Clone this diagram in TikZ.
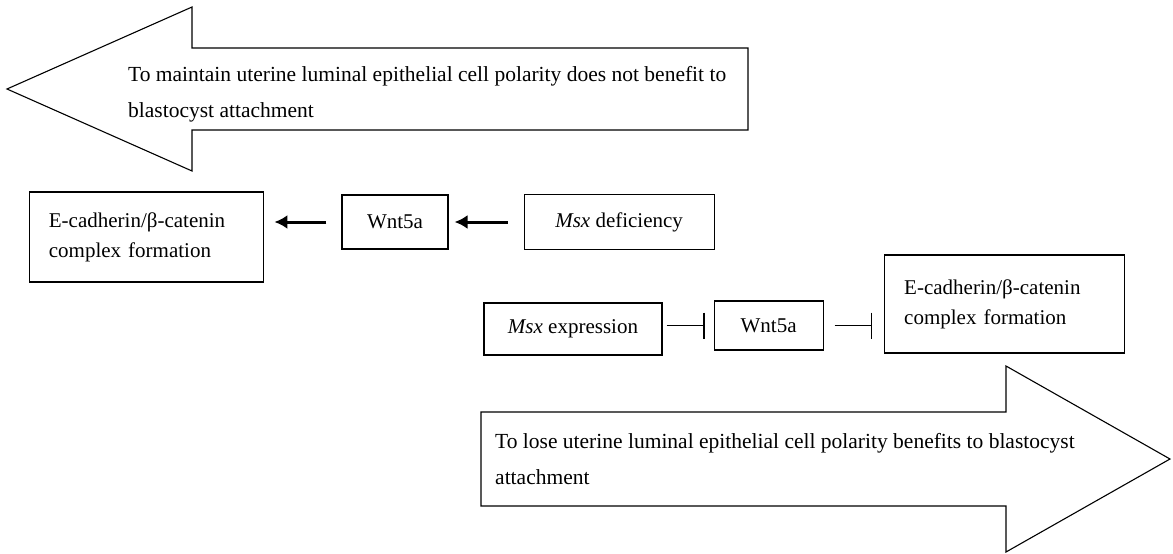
\documentclass[tikz,border=0pt]{standalone}
\usepackage{fontspec}
\setmainfont{Liberation Serif}
\usetikzlibrary{arrows.meta, positioning, calc}

\tikzstyle{pbox} = [%
  rectangle,
  draw=black,
  line width=1.1pt,
  align=center,
  inner sep=0pt,
  text centered,
  font=\fontsize{21}{30}\selectfont
]
\tikzstyle{ptext} = [%
  align=left,
  inner sep=0pt,
  font=\fontsize{21.5}{36}\selectfont
]
\tikzstyle{bigarrow} = [draw=black, line width=1.1pt, fill=white]
\tikzstyle{act} = [line width=3pt, -{Latex[length=13pt,width=14pt]}]
\tikzstyle{inh} = [line width=1.1pt, -{Bar[width=26pt]}]

\begin{document}
\begin{tikzpicture}[x=1pt, y=-1pt]

  % Frame
  \useasboundingbox (0,0) rectangle (1173,554);

  % Big arrows
  \draw[bigarrow] (748,48) -- (192,48) -- (192,7) -- (7,89) -- (192,171)
    -- (192,130) -- (748,130) -- cycle;
  \draw[bigarrow] (481,412) -- (1006,412) -- (1006,366) -- (1170,459)
    -- (1006,552) -- (1006,506) -- (481,506) -- cycle;
  \node[ptext,anchor=west] (T1) at (128,94) {To maintain uterine luminal epithelial cell polarity does not benefit to\\blastocyst attachment};
  \node[ptext,anchor=west] (T2) at (495,459) {To lose uterine luminal epithelial cell polarity benefits to blastocyst\\attachment};

  % Nodes (upper row)
  \node[pbox,minimum width=106pt,minimum height=54pt] (wntT) at (395,222) {Wnt5a};
  \node[pbox,minimum height=90pt,text width=196pt,inner xsep=19pt,align=left,left=77pt of wntT,yshift=-15pt] (ecadL) {E-cadherin/β-catenin\\complex formation};
  \node[pbox,minimum width=190pt,minimum height=55pt,right=75pt of wntT] (msxD) {\textit{Msx} deficiency};

  % Nodes (lower row)
  \node[pbox,minimum width=178pt,minimum height=52pt] (msxE) at (573,329) {\textit{Msx} expression};
  \node[pbox,minimum width=109pt,minimum height=49pt,right=51pt of msxE,yshift=3.5pt] (wntB) {Wnt5a};
  \node[pbox,minimum height=98pt,text width=200pt,inner xsep=20pt,align=left,right=60pt of wntB,yshift=21.5pt] (ecadR) {E-cadherin/β-catenin\\complex formation};

  % Edges
  \draw[act,shorten <=15pt,shorten >=10pt] (wntT.west) -- (wntT.west -| ecadL.east);
  \draw[act,shorten <=16pt,shorten >=6pt] (msxD.west) -- (msxD.west -| wntT.east);
  \draw[inh,shorten <=4pt,shorten >=9pt] (msxE.east |- wntB.west) -- (wntB.west);
  \draw[inh,shorten <=11pt,shorten >=12pt] (wntB.east) -- (wntB.east -| ecadR.west);

\end{tikzpicture}
\end{document}
